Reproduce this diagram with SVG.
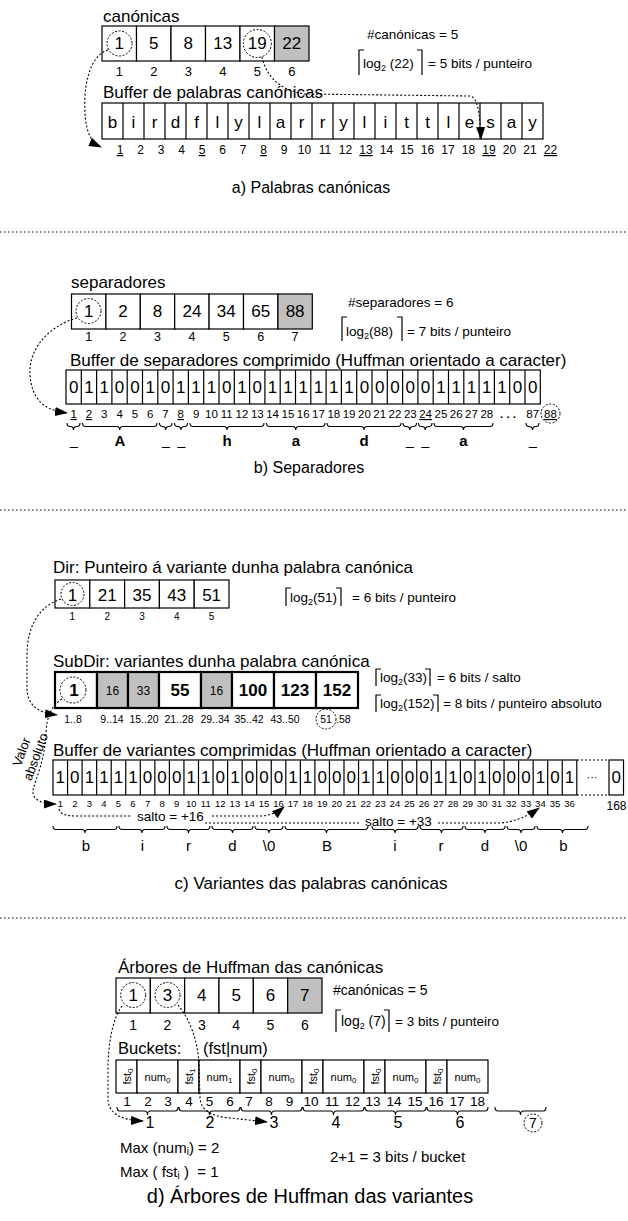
<svg xmlns="http://www.w3.org/2000/svg" width="628" height="1221" viewBox="0 0 628 1221">
<defs>
<style>
text{font-family:"Liberation Sans",Arial,Helvetica,sans-serif;fill:#000}
.c{fill:#fff;stroke:#000;stroke-width:1.2}
.g{fill:#c0c0c0;stroke:#000;stroke-width:1.2}
.cb{fill:#fff;stroke:#000;stroke-width:2.2}
.gb{fill:#c0c0c0;stroke:#000;stroke-width:2.2}
.ln{fill:none;stroke:#000;stroke-width:1.2}
.dt{fill:none;stroke:#000;stroke-width:1.1;stroke-dasharray:2 2}
.dc{fill:none;stroke:#000;stroke-width:1;stroke-dasharray:2 1.6}
.sep{fill:none;stroke:#000;stroke-width:1;stroke-dasharray:1.5 2.5}
.br{fill:none;stroke:#000;stroke-width:1.1}
.m{text-anchor:middle}
.u{text-decoration:underline}
.b{font-weight:bold}
</style>
<marker id="ah" markerWidth="13" markerHeight="9" refX="12" refY="4.5" orient="auto" markerUnits="userSpaceOnUse"><path d="M0,0 L13,4.5 L0,9 z" fill="#000"/></marker>
</defs>
<rect width="628" height="1221" fill="#fff"/>

<!-- ============ SECTION A ============ -->
<g id="a-canonicas">
<text x="103" y="22" font-size="17">canónicas</text>
<rect class="c" x="102" y="26" width="34.5" height="35"/>
<rect class="c" x="136.5" y="26" width="34.5" height="35"/>
<rect class="c" x="171" y="26" width="34.5" height="35"/>
<rect class="c" x="205.5" y="26" width="34.5" height="35"/>
<rect class="c" x="240" y="26" width="34.5" height="35"/>
<rect class="g" x="274.5" y="26" width="34.5" height="35"/>
<text class="m" y="49" font-size="17"><tspan x="119.3">1</tspan><tspan x="153.8">5</tspan><tspan x="188.3">8</tspan><tspan x="222.8">13</tspan><tspan x="257.3">19</tspan><tspan x="291.8">22</tspan></text>
<circle class="dc" cx="119.5" cy="43.5" r="12.5"/>
<circle class="dc" cx="257.3" cy="43.5" r="14"/>
<text class="m" y="76" font-size="13"><tspan x="119.3">1</tspan><tspan x="153.8">2</tspan><tspan x="188.3">3</tspan><tspan x="222.8">4</tspan><tspan x="257.3">5</tspan><tspan x="291.8">6</tspan></text>
</g>
<g id="a-info">
<text x="367" y="39" font-size="13.5">#canónicas = 5</text>
<path class="ln" d="M364,50 L359,50 L359,75 M417,50 L422,50 L422,75"/>
<text x="363" y="68" font-size="13.5">log<tspan font-size="9" dy="3">2</tspan><tspan dy="-3"> (22)</tspan></text>
<text x="428" y="68" font-size="13.5">= 5 bits / punteiro</text>
</g>
<g id="a-buffer">
<text x="103" y="98" font-size="17">Buffer de palabras canónicas</text>
<rect class="c" x="102" y="103" width="441" height="36"/>
<path class="ln" d="M123,103v36M144,103v36M165,103v36M186,103v36M207,103v36M228,103v36M249,103v36M270,103v36M291,103v36M312,103v36M333,103v36M354,103v36M375,103v36M396,103v36M417,103v36M438,103v36M459,103v36M480,103v36M501,103v36M522,103v36"/>
<text class="m" y="128" font-size="17" x="112.5 133.5 154.5 175.5 196.5 217.5 238.5 259.5 280.5 301.5 322.5 343.5 364.5 385.5 406.5 427.5 448.5 469.5 490.5 511.5 532.5">birdflylarrylittlesay</text>
<text class="m" y="154" font-size="12"><tspan class="u" x="120">1</tspan><tspan x="140.5">2</tspan><tspan x="161">3</tspan><tspan x="181.5">4</tspan><tspan class="u" x="202">5</tspan><tspan x="222.5">6</tspan><tspan x="243">7</tspan><tspan class="u" x="263.5">8</tspan><tspan x="284">9</tspan><tspan x="304.5">10</tspan><tspan x="325">11</tspan><tspan x="345.5">12</tspan><tspan class="u" x="366">13</tspan><tspan x="386.5">14</tspan><tspan x="407">15</tspan><tspan x="427.5">16</tspan><tspan x="448">17</tspan><tspan x="468.5">18</tspan><tspan class="u" x="489">19</tspan><tspan x="509.5">20</tspan><tspan x="530">21</tspan><tspan class="u" x="550.5">22</tspan></text>
</g>
<g id="a-connectors">
<path class="dt" marker-end="url(#ah)" d="M108,50 C95,54 87,70 85,95 C84,120 86,140 101,147"/>
<path class="dt" marker-end="url(#ah)" d="M262,57 C266,75 278,90 305,94 L470,96 C477,97 480,110 481,139"/>
</g>
<text class="m" x="311" y="193" font-size="16">a) Palabras canónicas</text>
<line class="sep" x1="0" y1="232" x2="628" y2="232"/>

<!-- ============ SECTION B ============ -->
<g id="b-separadores">
<text x="71" y="288" font-size="17">separadores</text>
<rect class="c" x="71.5" y="294" width="34.4" height="35"/>
<rect class="c" x="105.9" y="294" width="34.4" height="35"/>
<rect class="c" x="140.3" y="294" width="34.4" height="35"/>
<rect class="c" x="174.7" y="294" width="34.4" height="35"/>
<rect class="c" x="209.1" y="294" width="34.4" height="35"/>
<rect class="c" x="243.5" y="294" width="34.4" height="35"/>
<rect class="g" x="277.9" y="294" width="34.4" height="35"/>
<text class="m" y="317" font-size="17"><tspan x="88.7">1</tspan><tspan x="123.1">2</tspan><tspan x="157.5">8</tspan><tspan x="191.9">24</tspan><tspan x="226.3">34</tspan><tspan x="260.7">65</tspan><tspan x="295.1">88</tspan></text>
<circle class="dc" cx="88.5" cy="311" r="12.5"/>
<text class="m" y="341" font-size="12.5"><tspan x="88.7">1</tspan><tspan x="123.1">2</tspan><tspan x="157.5">3</tspan><tspan x="191.9">4</tspan><tspan x="226.3">5</tspan><tspan x="260.7">6</tspan><tspan x="295.1">7</tspan></text>
</g>
<g id="b-info">
<text x="348" y="307" font-size="13.5">#separadores = 6</text>
<path class="ln" d="M347,317 L342,317 L342,341 M397,317 L402,317 L402,341"/>
<text x="346" y="336" font-size="13.5">log<tspan font-size="9" dy="3">2</tspan><tspan dy="-3">(88)</tspan></text>
<text x="407" y="336" font-size="13.5">= 7 bits / punteiro</text>
</g>
<g id="b-buffer">
<text x="70" y="366" font-size="17">Buffer de separadores comprimido (Huffman orientado a caracter)</text>
<rect class="c" x="66" y="370" width="474.3" height="34"/>
<path class="ln" d="M81.3,370v34M96.6,370v34M111.9,370v34M127.2,370v34M142.5,370v34M157.8,370v34M173.1,370v34M188.4,370v34M203.7,370v34M219,370v34M234.3,370v34M249.6,370v34M264.9,370v34M280.2,370v34M295.5,370v34M310.8,370v34M326.1,370v34M341.4,370v34M356.7,370v34M372,370v34M387.3,370v34M402.6,370v34M417.9,370v34M433.2,370v34M448.5,370v34M463.8,370v34M479.1,370v34M494.4,370v34M509.7,370v34M525,370v34"/>
<text class="m" y="393" font-size="17" x="73.7 89 104.3 119.6 134.9 150.2 165.5 180.8 196.1 211.4 226.7 242 257.3 272.6 287.9 303.2 318.5 333.8 349.1 364.4 379.7 395 410.3 425.6 440.9 456.2 471.5 486.8 502.1 517.4 532.7">0110010111010111111000001111100</text>
<text class="m" y="418" font-size="11.5"><tspan class="u" x="73.7">1</tspan><tspan class="u" x="89">2</tspan><tspan x="104.3">3</tspan><tspan x="119.6">4</tspan><tspan x="134.9">5</tspan><tspan x="150.2">6</tspan><tspan x="165.5">7</tspan><tspan class="u" x="180.8">8</tspan><tspan x="196.1">9</tspan><tspan x="211.4">10</tspan><tspan x="226.7">11</tspan><tspan x="242">12</tspan><tspan x="257.3">13</tspan><tspan x="272.6">14</tspan><tspan x="287.9">15</tspan><tspan x="303.2">16</tspan><tspan x="318.5">17</tspan><tspan x="333.8">18</tspan><tspan x="349.1">19</tspan><tspan x="364.4">20</tspan><tspan x="379.7">21</tspan><tspan x="395">22</tspan><tspan x="410.3">23</tspan><tspan class="u" x="425.6">24</tspan><tspan x="440.9">25</tspan><tspan x="456.2">26</tspan><tspan x="471.5">27</tspan><tspan x="486.8">28</tspan><tspan x="508" class="b">. . .</tspan><tspan x="532.7">87</tspan><tspan class="u" x="550.5">88</tspan></text>
<circle class="dc" cx="550.5" cy="413.5" r="9.5"/>
</g>
<g id="b-braces">
<path class="br" d="M67,423 Q67,426.5 70,426.5 Q73.5,426.5 73.5,430 Q73.5,426.5 77,426.5 Q80,426.5 80,423 M82.5,423 Q82.5,426.5 85.5,426.5 L116.75,426.5 Q119.75,426.5 119.75,430 Q119.75,426.5 122.75,426.5 L154,426.5 Q157,426.5 157,423 M159.5,423 Q159.5,426.5 162.5,426.5 Q165.75,426.5 165.75,430 Q165.75,426.5 169,426.5 Q172,426.5 172,423 M174.5,423 Q174.5,426.5 177.5,426.5 Q181,426.5 181,430 Q181,426.5 184.5,426.5 Q187.5,426.5 187.5,423 M190,423 Q190,426.5 193,426.5 L224,426.5 Q227,426.5 227,430 Q227,426.5 230,426.5 L261,426.5 Q264,426.5 264,423 M266.5,423 Q266.5,426.5 269.5,426.5 L292.75,426.5 Q295.75,426.5 295.75,430 Q295.75,426.5 298.75,426.5 L322,426.5 Q325,426.5 325,423 M327,423 Q327,426.5 330,426.5 L361,426.5 Q364,426.5 364,430 Q364,426.5 367,426.5 L398,426.5 Q401,426.5 401,423 M403,423 Q403,426.5 406,426.5 Q409.75,426.5 409.75,430 Q409.75,426.5 413.5,426.5 Q416.5,426.5 416.5,423 M418.5,423 Q418.5,426.5 421.5,426.5 Q425.25,426.5 425.25,430 Q425.25,426.5 429,426.5 Q432,426.5 432,423 M434,423 Q434,426.5 437,426.5 L460.5,426.5 Q463.5,426.5 463.5,430 Q463.5,426.5 466.5,426.5 L490,426.5 Q493,426.5 493,423 M526,423 Q526,426.5 529,426.5 Q532.5,426.5 532.5,430 Q532.5,426.5 536,426.5 Q539,426.5 539,423"/>
<text class="m b" y="446" font-size="15"><tspan x="120">A</tspan><tspan x="227">h</tspan><tspan x="296">a</tspan><tspan x="364">d</tspan><tspan x="463.5">a</tspan></text>
<text class="m" y="445" font-size="14"><tspan x="74">_</tspan><tspan x="166">_</tspan><tspan x="181.5">_</tspan><tspan x="410">_</tspan><tspan x="425.5">_</tspan><tspan x="533">_</tspan></text>
</g>
<g id="b-connectors">
<path class="dt" marker-end="url(#ah)" d="M77,318 C48,326 28,350 30,375 C32,398 42,410 67,413"/>
</g>
<text class="m" x="309" y="473" font-size="16">b) Separadores</text>
<line class="sep" x1="0" y1="510" x2="628" y2="510"/>

<!-- ============ SECTION C ============ -->
<g id="c-dir">
<text x="53" y="573" font-size="17">Dir: Punteiro á variante dunha palabra canónica</text>
<rect class="c" x="55" y="580" width="34.8" height="28"/>
<rect class="c" x="89.8" y="580" width="34.8" height="28"/>
<rect class="c" x="124.6" y="580" width="34.8" height="28"/>
<rect class="c" x="159.4" y="580" width="34.8" height="28"/>
<rect class="c" x="194.2" y="580" width="34.8" height="28"/>
<text class="m" y="601" font-size="17"><tspan x="72.4">1</tspan><tspan x="107.2">21</tspan><tspan x="142">35</tspan><tspan x="176.8">43</tspan><tspan x="211.6">51</tspan></text>
<circle class="dc" cx="72.5" cy="594" r="11.5"/>
<text class="m" y="620" font-size="10"><tspan x="72.4">1</tspan><tspan x="107.2">2</tspan><tspan x="142">3</tspan><tspan x="176.8">4</tspan><tspan x="211.6">5</tspan></text>
<path class="ln" d="M291,588 L286,588 L286,606 M336,588 L341,588 L341,606"/>
<text x="290" y="602" font-size="13.5">log<tspan font-size="9" dy="3">2</tspan><tspan dy="-3">(51)</tspan></text>
<text x="352" y="602" font-size="13.5">= 6 bits / punteiro</text>
</g>
<g id="c-subdir">
<text x="53" y="667" font-size="17">SubDir: variantes dunha palabra canónica</text>
<rect class="cb" x="55" y="672" width="42" height="36"/>
<rect class="gb" x="97" y="672" width="31" height="36"/>
<rect class="gb" x="128" y="672" width="31" height="36"/>
<rect class="cb" x="159" y="672" width="42" height="36"/>
<rect class="gb" x="201" y="672" width="31" height="36"/>
<rect class="cb" x="232" y="672" width="42" height="36"/>
<rect class="cb" x="274" y="672" width="42" height="36"/>
<rect class="cb" x="316" y="672" width="42" height="36"/>
<text class="m b" y="696" font-size="17"><tspan x="74">1</tspan><tspan x="180">55</tspan><tspan x="253">100</tspan><tspan x="295">123</tspan><tspan x="337">152</tspan></text>
<text class="m" y="695" font-size="12"><tspan x="112.5">16</tspan><tspan x="143.5">33</tspan><tspan x="216.5">16</tspan></text>
<circle class="dc" cx="73" cy="690" r="13"/>
<text class="m" y="723" font-size="10.5"><tspan x="73">1..8</tspan><tspan x="112">9..14</tspan><tspan x="144">15..20</tspan><tspan x="179">21..28</tspan><tspan x="215">29..34</tspan><tspan x="249">35..42</tspan><tspan x="285">43..50</tspan><tspan x="326">51</tspan></text>
<text x="336" y="723" font-size="10.5">.58</text>
<circle class="dc" cx="326" cy="719" r="10"/>
<path class="ln" d="M381,669 L376,669 L376,686 M425,669 L430,669 L430,686"/>
<text x="380" y="682" font-size="13.5">log<tspan font-size="9" dy="3">2</tspan><tspan dy="-3">(33)</tspan></text>
<text x="437" y="682" font-size="13.5">= 6 bits / salto</text>
<path class="ln" d="M381,695 L376,695 L376,712 M433,695 L438,695 L438,712"/>
<text x="380" y="708" font-size="13.5">log<tspan font-size="9" dy="3">2</tspan><tspan dy="-3">(152)</tspan></text>
<text x="443" y="708" font-size="13.5">= 8 bits / punteiro absoluto</text>
</g>
<g id="c-buffer">
<text x="53" y="756" font-size="17">Buffer de variantes comprimidas (Huffman orientado a caracter)</text>
<rect class="c" x="53" y="760" width="523.8" height="35"/>
<path class="ln" d="M67.55,760v35M82.1,760v35M96.65,760v35M111.2,760v35M125.75,760v35M140.3,760v35M154.85,760v35M169.4,760v35M183.95,760v35M198.5,760v35M213.05,760v35M227.6,760v35M242.15,760v35M256.7,760v35M271.25,760v35M285.8,760v35M300.35,760v35M314.9,760v35M329.45,760v35M344,760v35M358.55,760v35M373.1,760v35M387.65,760v35M402.2,760v35M416.75,760v35M431.3,760v35M445.85,760v35M460.4,760v35M474.95,760v35M489.5,760v35M504.05,760v35M518.6,760v35M533.15,760v35M547.7,760v35M562.25,760v35"/>
<path class="dt" d="M577,760 L609,760 M577,795 L609,795"/>
<rect class="c" x="609" y="760" width="14.5" height="35"/>
<text class="m" y="783" font-size="17" x="60.3 74.8 89.4 103.9 118.5 133 147.6 162.1 176.7 191.2 205.8 220.3 234.9 249.4 264 278.5 293.1 307.6 322.2 336.7 351.3 365.8 380.4 394.9 409.5 424 438.6 453.1 467.7 482.2 496.8 511.3 525.9 540.4 555 569.5">101111000110100011000110001101000101</text>
<text class="m" x="592" y="781" font-size="11">···</text>
<text class="m" x="616.2" y="783" font-size="17">0</text>
<text class="m" y="807" font-size="9.5"><tspan x="60.3">1</tspan><tspan x="74.8">2</tspan><tspan x="89.4">3</tspan><tspan x="103.9">4</tspan><tspan x="118.5">5</tspan><tspan x="133">6</tspan><tspan x="147.6">7</tspan><tspan x="162.1">8</tspan><tspan x="176.7">9</tspan><tspan x="191.2">10</tspan><tspan x="205.8">11</tspan><tspan x="220.3">12</tspan><tspan x="234.9">13</tspan><tspan x="249.4">14</tspan><tspan x="264">15</tspan><tspan x="278.5">16</tspan><tspan x="293.1">17</tspan><tspan x="307.6">18</tspan><tspan x="322.2">19</tspan><tspan x="336.7">20</tspan><tspan x="351.3">21</tspan><tspan x="365.8">22</tspan><tspan x="380.4">23</tspan><tspan x="394.9">24</tspan><tspan x="409.5">25</tspan><tspan x="424">26</tspan><tspan x="438.6">27</tspan><tspan x="453.1">28</tspan><tspan x="467.7">29</tspan><tspan x="482.2">30</tspan><tspan x="496.8">31</tspan><tspan x="511.3">32</tspan><tspan x="525.9">33</tspan><tspan x="540.4">34</tspan><tspan x="555">35</tspan><tspan x="569.5">36</tspan></text>
<text class="m" x="616.5" y="810" font-size="12">168</text>
</g>
<g id="c-braces">
<path class="br" d="M53,826 Q53,829.5 56,829.5 L82,829.5 Q85,829.5 85,833 Q85,829.5 88,829.5 L114,829.5 Q117,829.5 117,826 M119,826 Q119,829.5 122,829.5 L139,829.5 Q142,829.5 142,833 Q142,829.5 145,829.5 L162,829.5 Q165,829.5 165,826 M167,826 Q167,829.5 170,829.5 L185.5,829.5 Q188.5,829.5 188.5,833 Q188.5,829.5 191.5,829.5 L207,829.5 Q210,829.5 210,826 M212,826 Q212,829.5 215,829.5 L229.5,829.5 Q232.5,829.5 232.5,833 Q232.5,829.5 235.5,829.5 L250,829.5 Q253,829.5 253,826 M255,826 Q255,829.5 258,829.5 L266,829.5 Q269,829.5 269,833 Q269,829.5 272,829.5 L280,829.5 Q283,829.5 283,826 M285,826 Q285,829.5 288,829.5 L323.5,829.5 Q326.5,829.5 326.5,833 Q326.5,829.5 329.5,829.5 L365,829.5 Q368,829.5 368,826 M372,826 Q372,829.5 375,829.5 L392,829.5 Q395,829.5 395,833 Q395,829.5 398,829.5 L415,829.5 Q418,829.5 418,826 M420,826 Q420,829.5 423,829.5 L438.5,829.5 Q441.5,829.5 441.5,833 Q441.5,829.5 444.5,829.5 L460,829.5 Q463,829.5 463,826 M465,826 Q465,829.5 468,829.5 L482,829.5 Q485,829.5 485,833 Q485,829.5 488,829.5 L502,829.5 Q505,829.5 505,826 M507,826 Q507,829.5 510,829.5 L518,829.5 Q521,829.5 521,833 Q521,829.5 524,829.5 L532,829.5 Q535,829.5 535,826 M537,826 Q537,829.5 540,829.5 L559.5,829.5 Q562.5,829.5 562.5,833 Q562.5,829.5 565.5,829.5 L585,829.5 Q588,829.5 588,826"/>
<text class="m" y="851" font-size="15"><tspan x="86">b</tspan><tspan x="142.5">i</tspan><tspan x="188.5">r</tspan><tspan x="232.5">d</tspan><tspan x="269">\0</tspan><tspan x="327">B</tspan><tspan x="395">i</tspan><tspan x="441">r</tspan><tspan x="485">d</tspan><tspan x="521">\0</tspan><tspan x="563.5">b</tspan></text>
</g>
<g id="c-connectors">
<path class="dt" marker-end="url(#ah)" d="M61,599 C40,606 27,625 27,655 L27,688 C27,705 38,713 57,715"/>
<path class="dt" marker-end="url(#ah)" d="M62,699 C52,705 47,716 46,732 C45,760 36,778 33,790 C32,800 42,804 56,804"/>
<text class="m" font-size="13" transform="translate(22,752) rotate(-70)" dy="4">Valor</text>
<text class="m" font-size="13" transform="translate(36,757) rotate(-70)" dy="4">absoluto</text>
<path class="dt" d="M59,809 C61,815 66,816 78,816 L132,816"/>
<text x="137" y="821" font-size="13.5">salto = +16</text>
<path class="dt" marker-end="url(#ah)" d="M212,816 L262,816 C272,815 278,812 284,807"/>
<path class="dt" d="M205,823 L360,823"/>
<text x="365" y="826" font-size="13.5">salto = +33</text>
<path class="dt" marker-end="url(#ah)" d="M438,823 L500,823 C515,822 528,816 539,808"/>
</g>
<text class="m" x="311" y="889" font-size="17">c) Variantes das palabras canónicas</text>
<line class="sep" x1="0" y1="918" x2="628" y2="918"/>

<!-- ============ SECTION D ============ -->
<g id="d-arbores">
<text x="118" y="973" font-size="17">Árbores de Huffman das canónicas</text>
<rect class="c" x="116" y="978" width="34.33" height="35"/>
<rect class="c" x="150.33" y="978" width="34.33" height="35"/>
<rect class="c" x="184.67" y="978" width="34.33" height="35"/>
<rect class="c" x="219" y="978" width="34.33" height="35"/>
<rect class="c" x="253.33" y="978" width="34.33" height="35"/>
<rect class="g" x="287.67" y="978" width="34.33" height="35"/>
<text class="m" y="1001" font-size="17"><tspan x="133.2">1</tspan><tspan x="167.5">3</tspan><tspan x="201.8">4</tspan><tspan x="236.2">5</tspan><tspan x="270.5">6</tspan><tspan x="304.8">7</tspan></text>
<circle class="dc" cx="133.2" cy="995" r="12.5"/>
<circle class="dc" cx="167.5" cy="995" r="12.5"/>
<text class="m" y="1030" font-size="14"><tspan x="133.2">1</tspan><tspan x="167.5">2</tspan><tspan x="201.8">3</tspan><tspan x="236.2">4</tspan><tspan x="270.5">5</tspan><tspan x="304.8">6</tspan></text>
</g>
<g id="d-info">
<text x="333" y="995" font-size="14">#canónicas = 5</text>
<path class="ln" d="M341,1010 L336,1010 L336,1032 M384,1010 L389,1010 L389,1032"/>
<text x="341" y="1026" font-size="14">log<tspan font-size="9" dy="3">2</tspan><tspan dy="-3"> (7)</tspan></text>
<text x="395" y="1026" font-size="13.5">= 3 bits / punteiro</text>
</g>
<g id="d-buckets">
<text x="118" y="1054" font-size="16.5">Buckets:</text>
<text x="203" y="1054" font-size="16.5">(fst|num)</text>
<rect class="c" x="116" y="1060" width="21" height="33"/><rect class="c" x="137" y="1060" width="41" height="33"/>
<rect class="c" x="178" y="1060" width="21" height="33"/><rect class="c" x="199" y="1060" width="41" height="33"/>
<rect class="c" x="240" y="1060" width="21" height="33"/><rect class="c" x="261" y="1060" width="41" height="33"/>
<rect class="c" x="302" y="1060" width="21" height="33"/><rect class="c" x="323" y="1060" width="41" height="33"/>
<rect class="c" x="364" y="1060" width="21" height="33"/><rect class="c" x="385" y="1060" width="41" height="33"/>
<rect class="c" x="426" y="1060" width="21" height="33"/><rect class="c" x="447" y="1060" width="41" height="33"/>
<g font-size="11" class="m">
<text transform="translate(130.5,1076.5) rotate(-90)" x="0" y="0">fst<tspan font-size="8" dy="2">0</tspan></text>
<text transform="translate(192.5,1076.5) rotate(-90)" x="0" y="0">fst<tspan font-size="8" dy="2">1</tspan></text>
<text transform="translate(254.5,1076.5) rotate(-90)" x="0" y="0">fst<tspan font-size="8" dy="2">0</tspan></text>
<text transform="translate(316.5,1076.5) rotate(-90)" x="0" y="0">fst<tspan font-size="8" dy="2">0</tspan></text>
<text transform="translate(378.5,1076.5) rotate(-90)" x="0" y="0">fst<tspan font-size="8" dy="2">0</tspan></text>
<text transform="translate(440.5,1076.5) rotate(-90)" x="0" y="0">fst<tspan font-size="8" dy="2">0</tspan></text>
<text x="157.5" y="1081">num<tspan font-size="8" dy="2">0</tspan></text>
<text x="219.5" y="1081">num<tspan font-size="8" dy="2">1</tspan></text>
<text x="281.5" y="1081">num<tspan font-size="8" dy="2">0</tspan></text>
<text x="343.5" y="1081">num<tspan font-size="8" dy="2">0</tspan></text>
<text x="405.5" y="1081">num<tspan font-size="8" dy="2">0</tspan></text>
<text x="467.5" y="1081">num<tspan font-size="8" dy="2">0</tspan></text>
</g>
<text class="m" y="1106" font-size="13.5"><tspan x="127">1</tspan><tspan x="148">2</tspan><tspan x="168">3</tspan><tspan x="189">4</tspan><tspan x="209.5">5</tspan><tspan x="230">6</tspan><tspan x="249">7</tspan><tspan x="269">8</tspan><tspan x="289.5">9</tspan><tspan x="311">10</tspan><tspan x="332">11</tspan><tspan x="352.5">12</tspan><tspan x="373">13</tspan><tspan x="394">14</tspan><tspan x="415">15</tspan><tspan x="436">16</tspan><tspan x="457">17</tspan><tspan x="477.5">18</tspan></text>
<path class="br" d="M117,1107 Q117,1111 120,1111 L144.5,1111 Q147.5,1111 147.5,1115 Q147.5,1111 150.5,1111 L175,1111 Q178,1111 178,1107 M179,1107 Q179,1111 182,1111 L206.5,1111 Q209.5,1111 209.5,1115 Q209.5,1111 212.5,1111 L237,1111 Q240,1111 240,1107 M241,1107 Q241,1111 244,1111 L268.5,1111 Q271.5,1111 271.5,1115 Q271.5,1111 274.5,1111 L299,1111 Q302,1111 302,1107 M303,1107 Q303,1111 306,1111 L330.5,1111 Q333.5,1111 333.5,1115 Q333.5,1111 336.5,1111 L361,1111 Q364,1111 364,1107 M365,1107 Q365,1111 368,1111 L392.5,1111 Q395.5,1111 395.5,1115 Q395.5,1111 398.5,1111 L423,1111 Q426,1111 426,1107 M427,1107 Q427,1111 430,1111 L454.5,1111 Q457.5,1111 457.5,1115 Q457.5,1111 460.5,1111 L485,1111 Q488,1111 488,1107 M495,1107 Q495,1111 498,1111 L517.5,1111 Q520.5,1111 520.5,1115 Q520.5,1111 523.5,1111 L543,1111 Q546,1111 546,1107"/>
<text class="m" y="1128" font-size="16"><tspan x="150">1</tspan><tspan x="210">2</tspan><tspan x="274">3</tspan><tspan x="336">4</tspan><tspan x="398">5</tspan><tspan x="460">6</tspan></text>
<circle class="dc" cx="533" cy="1123" r="9"/>
<text class="m" x="533" y="1128" font-size="14">7</text>
</g>
<g id="d-connectors">
<path class="dt" marker-end="url(#ah)" d="M122,1006 C112,1020 108,1045 108,1070 L108,1098 C108,1112 118,1120 143,1121"/>
<path class="dt" marker-end="url(#ah)" d="M178,1005 C190,1020 198,1040 199,1065 L200,1098 C201,1110 210,1116 230,1118 L267,1122"/>
</g>
<g id="d-notes">
<text x="120" y="1153" font-size="15">Max (num<tspan font-size="10" dy="2">i</tspan><tspan dy="-2">) = 2</tspan></text>
<text x="120" y="1177" font-size="15" xml:space="preserve">Max ( fst<tspan font-size="10" dy="2">i</tspan><tspan dy="-2"> )  = 1</tspan></text>
<text x="330" y="1162" font-size="15">2+1 = 3 bits / bucket</text>
</g>
<text class="m" x="310" y="1203" font-size="20">d) Árbores de Huffman das variantes</text>
</svg>
